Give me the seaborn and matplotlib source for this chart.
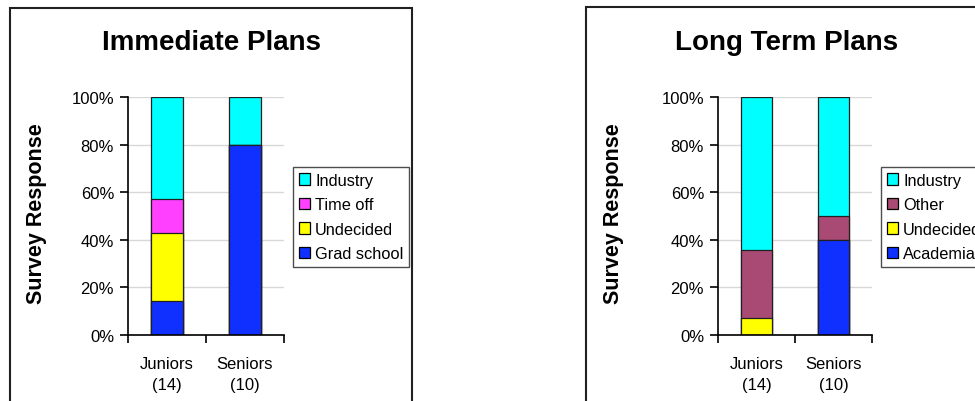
import matplotlib
matplotlib.use("Agg")
import matplotlib.pyplot as plt
import seaborn as sns
import numpy as np
from matplotlib.patches import Patch, Rectangle
from matplotlib.ticker import FixedLocator, PercentFormatter

# ---- data ----
categories = ["Juniors\n(14)", "Seniors\n(10)"]

imm_titles = "Immediate Plans"
imm_series = ["Grad school", "Undecided", "Time off", "Industry"]
imm_grad = [14.3, 80.0]
imm_undecided = [28.6, 0.0]
imm_timeoff = [14.3, 0.0]
imm_industry = [42.8, 20.0]
imm_colors = ["#1030FF", "#FFFF00", "#FF40FF", "#00FFFF"]

lt_title = "Long Term Plans"
lt_series = ["Academia", "Undecided", "Other", "Industry"]
lt_academia = [0.0, 40.0]
lt_undecided = [7.1, 0.0]
lt_other = [28.6, 10.0]
lt_industry = [64.3, 50.0]
lt_colors = ["#1030FF", "#FFFF00", "#A94A74", "#00FFFF"]

ylabel = "Survey Response"
yticks = [0, 20, 40, 60, 80, 100]

sns.set_theme(style="white")
plt.rcParams["font.family"] = ["Liberation Sans", "DejaVu Sans"]
plt.rcParams["text.color"] = "black"
plt.rcParams["xtick.color"] = "black"
plt.rcParams["ytick.color"] = "black"
plt.rcParams["axes.labelcolor"] = "black"

fig = plt.figure(figsize=(9.75, 4.02), dpi=100)
W, H = 975, 402


def fig_rect(x0, y0, x1, y1):
    return [x0 / W, 1 - y1 / H, (x1 - x0) / W, (y1 - y0) / H]


def draw_panel(ax, title, series, values, colors, legend_x, title_x, ylab_x):
    cum = np.cumsum(np.array(values), axis=0)
    # draw from top layer down so lower layers overlay
    for i in range(len(series) - 1, -1, -1):
        sns.barplot(x=categories, y=cum[i], color=colors[i], width=0.4,
                    edgecolor="#202020", linewidth=0.9, ax=ax, zorder=3,
                    saturation=1)
    ax.set_xlim(-0.5, 1.5)
    ax.set_ylim(0, 100)
    ax.yaxis.set_major_locator(FixedLocator(yticks))
    ax.yaxis.set_major_formatter(PercentFormatter(decimals=0))
    ax.grid(axis="y", color="#d8d8d8", linewidth=1, zorder=0)
    ax.set_axisbelow(True)
    for s in ["top", "right"]:
        ax.spines[s].set_visible(False)
    for s in ["left", "bottom"]:
        ax.spines[s].set_color("black")
        ax.spines[s].set_linewidth(1.2)
        ax.spines[s].set_zorder(5)
    ax.tick_params(axis="y", which="major", direction="out", length=6, width=1.2,
                   color="black", labelsize=12, pad=4, left=True)
    ax.set_xticks([0, 1])
    ax.set_xticklabels(categories, fontsize=12, linespacing=1.5)
    ax.tick_params(axis="x", which="major", length=0, pad=15)
    ax.set_xticks([-0.5, 0.5, 1.5], minor=True)
    ax.tick_params(axis="x", which="minor", direction="out", length=6, width=1.2,
                   color="black", bottom=True)
    ax.set_xlabel("")
    ax.set_ylabel("")
    fig.text(ylab_x / W, 1 - 214 / H, ylabel, rotation=90, fontsize=15.5,
             fontweight="bold", ha="center", va="center")
    fig.text(title_x / W, 1 - 43 / H, title, fontsize=20, fontweight="bold",
             ha="center", va="center")
    handles = [Patch(facecolor=colors[i], edgecolor="black", linewidth=0.9,
                     label=series[i]) for i in range(len(series) - 1, -1, -1)]
    leg = ax.legend(handles=handles, loc="upper left",
                    bbox_to_anchor=(legend_x, 0.706), borderaxespad=0,
                    fontsize=11.8, frameon=True, fancybox=False,
                    handlelength=0.7, handleheight=0.7, handletextpad=0.3,
                    labelspacing=0.58, borderpad=0.35, edgecolor="#202020")
    leg.get_frame().set_linewidth(1.0)


ax1 = fig.add_axes(fig_rect(128, 98, 284, 336))
draw_panel(ax1, imm_titles, imm_series,
           [imm_grad, imm_undecided, imm_timeoff, imm_industry], imm_colors,
           legend_x=(293 - 128) / 156, title_x=211, ylab_x=37)

ax2 = fig.add_axes(fig_rect(718, 98, 872, 336))
draw_panel(ax2, lt_title, lt_series,
           [lt_academia, lt_undecided, lt_other, lt_industry], lt_colors,
           legend_x=(881 - 718) / 154, title_x=787, ylab_x=613)

# panel frames
fig.patches.append(Rectangle((10 / W, -0.05), (412 - 10) / W, 1 - 9 / H + 0.05,
                             transform=fig.transFigure, fill=False,
                             edgecolor="#202020", linewidth=1.5))
fig.patches.append(Rectangle((586 / W, -0.05), 0.5, 1 - 8 / H + 0.05,
                             transform=fig.transFigure, fill=False,
                             edgecolor="#202020", linewidth=1.5))

fig.savefig("out.png", dpi=100, facecolor="white")
